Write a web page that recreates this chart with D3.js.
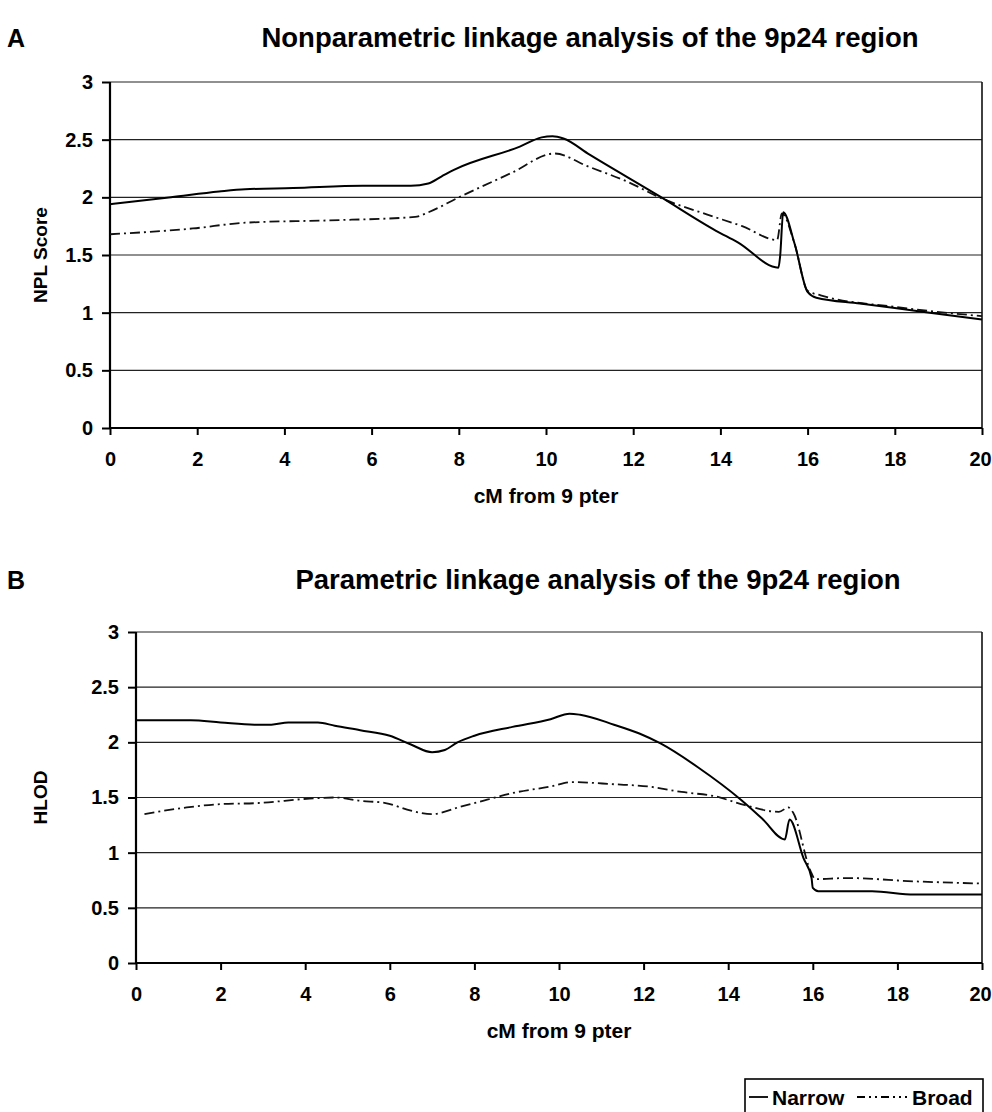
<!DOCTYPE html>
<html>
<head>
<meta charset="utf-8">
<script src="https://cdn.jsdelivr.net/npm/d3@7/dist/d3.min.js"></script>
<style>
  body { margin: 0; background: #fff; }
  text { font-family: "Liberation Sans", Arial, sans-serif; font-weight: bold; fill: #000; }
</style>
</head>
<body>
<div id="chart"></div>
<script>
// cM positions / scores
const xTicks = [0, 2, 4, 6, 8, 10, 12, 14, 16, 18, 20];
const yTicks = [0, 0.5, 1, 1.5, 2, 2.5, 3];
const seriesNames = ["Narrow", "Broad"];

const nplNarrow = [
  [0, 1.94], [1.4, 2.0], [2.5, 2.05], [3.1, 2.07], [4.2, 2.08], [5.8, 2.1],
  [6.9, 2.1], [7.3, 2.12], [7.6, 2.18], [7.9, 2.24], [9.4, 2.44], [9.9, 2.52],
  [10.15, 2.53], [10.4, 2.51], [11.0, 2.37], [12.6, 2.01], [13.9, 1.71],
  [14.4, 1.61], [15.33, 1.39], [15.37, 1.49], [15.44, 1.87], [15.7, 1.6],
  [16.0, 1.18], [16.2, 1.13], [17.2, 1.08], [18.8, 1.0], [20, 0.94]
];
const nplBroad = [
  [0, 1.68], [1.9, 1.73], [3.1, 1.78], [5.0, 1.8], [7.0, 1.83], [7.3, 1.87],
  [8.0, 2.0], [9.2, 2.21], [10.2, 2.38], [10.95, 2.27], [11.9, 2.13],
  [12.6, 2.0], [13.7, 1.85], [14.5, 1.75], [15.3, 1.63], [15.41, 1.86],
  [15.7, 1.6], [16.0, 1.19], [16.3, 1.15], [18.0, 1.05], [20, 0.97]
];
const hlodNarrow = [
  [0, 2.2], [1.3, 2.2], [2.0, 2.18], [2.8, 2.16], [3.2, 2.16], [3.6, 2.18],
  [4.3, 2.18], [4.7, 2.15], [5.3, 2.11], [6.0, 2.06], [6.5, 1.98], [7.0, 1.91],
  [7.3, 1.93], [7.6, 2.0], [8.0, 2.06], [8.9, 2.14], [9.8, 2.21], [10.25, 2.26],
  [10.5, 2.25], [11.3, 2.16], [11.9, 2.08], [12.4, 1.99], [13.3, 1.77],
  [14.3, 1.48], [14.8, 1.31], [15.34, 1.12], [15.45, 1.3], [15.78, 0.95],
  [15.97, 0.77], [16.0, 0.68], [16.13, 0.65], [17.4, 0.65], [18.4, 0.62], [20, 0.62]
];
const hlodBroad = [
  [0.2, 1.35], [1.2, 1.41], [2.0, 1.44], [2.9, 1.45], [4.1, 1.49], [4.7, 1.5],
  [5.3, 1.47], [5.9, 1.45], [6.5, 1.38], [7.0, 1.35], [7.7, 1.42], [8.3, 1.48],
  [8.9, 1.54], [9.8, 1.6], [10.3, 1.64], [11.3, 1.62], [12.1, 1.6], [12.9, 1.55],
  [13.7, 1.51], [14.4, 1.43], [15.2, 1.37], [15.42, 1.41], [15.54, 1.36],
  [15.94, 0.84], [16.06, 0.76], [16.8, 0.77], [18.4, 0.74], [20, 0.72]
];

const dashBroad = "10,4,2,4";

const svg = d3.select("#chart")
  .append("svg")
  .attr("width", 992)
  .attr("height", 1112);

svg.append("rect").attr("width", 992).attr("height", 1112).attr("fill", "#fff");

function drawPanel(opts) {
  const dims = opts.dims;
  const g = svg.append("g");

  const xScale = d3.scaleLinear().domain([0, 20]).range([dims.left, dims.right]);
  const yScale = d3.scaleLinear().domain([0, 3]).range([dims.bottom, dims.top]);

  // letter + title
  g.append("text")
    .attr("x", 7).attr("y", opts.titleY)
    .style("font-size", "25px")
    .text(opts.letter);
  g.append("text")
    .attr("x", opts.titleX).attr("y", opts.titleY)
    .attr("text-anchor", "middle")
    .style("font-size", "27.5px")
    .text(opts.title);

  // gridlines
  g.selectAll(".grid")
    .data(yTicks.filter((d) => d > 0))
    .join("line")
    .attr("x1", dims.left).attr("x2", dims.right)
    .attr("y1", (d) => yScale(d)).attr("y2", (d) => yScale(d))
    .attr("stroke", "#222").attr("stroke-width", 1.2);

  g.append("line")
    .attr("x1", dims.right).attr("x2", dims.right)
    .attr("y1", dims.top).attr("y2", dims.bottom)
    .attr("stroke", "#111").attr("stroke-width", 1.6);

  // axes
  const yAxis = g.append("g")
    .attr("transform", `translate(${dims.left},0)`)
    .call(d3.axisLeft(yScale).tickValues(yTicks).tickSize(8).tickPadding(9).tickFormat(d3.format("")));
  const xAxis = g.append("g")
    .attr("transform", `translate(0,${dims.bottom})`)
    .call(d3.axisBottom(xScale).tickValues(xTicks).tickSize(7).tickPadding(17).tickFormat(d3.format("")));

  [yAxis, xAxis].forEach((ax) => {
    ax.select(".domain").attr("stroke", "#000").attr("stroke-width", 2.2);
    ax.selectAll(".tick line").attr("stroke", "#000").attr("stroke-width", 2);
    ax.selectAll(".tick text")
      .style("font-size", "20px")
      .style("font-family", '"Liberation Sans", Arial, sans-serif')
      .style("font-weight", "bold")
      .attr("fill", "#000");
  });
  // keep the last label inside the page
  xAxis.selectAll(".tick text").filter((d) => d === 20).attr("dx", -2);
  yAxis.select(".domain").attr("d", `M0,${dims.top}V${dims.bottom}`);
  xAxis.select(".domain").attr("d", `M${dims.left},0H${dims.right}`);

  // axis titles
  g.append("text")
    .attr("x", (dims.left + dims.right) / 2).attr("y", dims.bottom + 75)
    .attr("text-anchor", "middle")
    .style("font-size", "21px")
    .text("cM from 9 pter");
  g.append("text")
    .attr("transform", `translate(${opts.yLabelX},${(dims.top + dims.bottom) / 2}) rotate(-90)`)
    .attr("text-anchor", "middle")
    .style("font-size", "19px")
    .text(opts.yLabel);

  // lines
  const lineGen = d3.line()
    .x((d) => xScale(d[0]))
    .y((d) => yScale(d[1]))
    .curve(d3.curveMonotoneX);

  g.append("path")
    .attr("d", lineGen(opts.broad))
    .attr("fill", "none")
    .attr("stroke", "#111")
    .attr("stroke-width", 1.8)
    .attr("stroke-dasharray", dashBroad);
  g.append("path")
    .attr("d", lineGen(opts.narrow))
    .attr("fill", "none")
    .attr("stroke", "#000")
    .attr("stroke-width", 2);
}

drawPanel({
  letter: "A",
  title: "Nonparametric linkage analysis of the 9p24 region",
  titleX: 590, titleY: 47,
  yLabel: "NPL Score", yLabelX: 47,
  narrow: nplNarrow, broad: nplBroad,
  dims: { left: 110, right: 982, top: 82, bottom: 428 }
});

drawPanel({
  letter: "B",
  title: "Parametric linkage analysis of the 9p24 region",
  titleX: 598, titleY: 589,
  yLabel: "HLOD", yLabelX: 47,
  narrow: hlodNarrow, broad: hlodBroad,
  dims: { left: 136, right: 982, top: 632, bottom: 963 }
});

// legend
const legend = svg.append("g").attr("transform", "translate(745,1079)");
legend.append("rect")
  .attr("width", 238).attr("height", 35)
  .attr("fill", "#fff").attr("stroke", "#000").attr("stroke-width", 1.6);
const legendItems = legend.selectAll(".item")
  .data(seriesNames)
  .join("g")
  .attr("transform", (d, i) => `translate(${i === 0 ? 4 : 112},0)`);
legendItems.append("line")
  .attr("x1", 0).attr("x2", (d, i) => (i === 0 ? 19 : 50))
  .attr("y1", 18).attr("y2", 18)
  .attr("stroke", "#000").attr("stroke-width", 1.8)
  .attr("stroke-dasharray", (d, i) => (i === 0 ? null : "8,4,2,4,2,4"));
legendItems.append("text")
  .attr("x", (d, i) => (i === 0 ? 23 : 55)).attr("y", 26)
  .style("font-size", "21px")
  .text((d) => d);
</script>
</body>
</html>
